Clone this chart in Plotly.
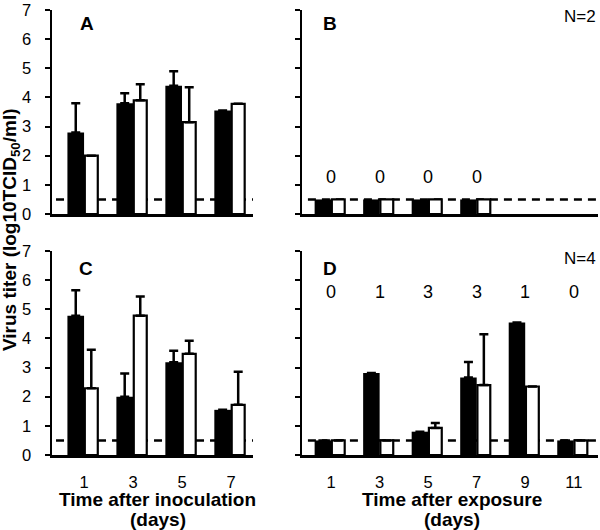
import plotly.graph_objects as go

W, H = 600, 530
FONT = "Arial, Liberation Sans, sans-serif"

# ---------------- data ----------------
days_inoc = [1, 3, 5, 7]
days_exp_b = [1, 3, 5, 7]
days_exp_d = [1, 3, 5, 7, 9, 11]

# Panel A
a_black = [2.8, 3.8, 4.4, 3.55]
a_black_err = [1.0, 0.34, 0.5, None]
a_white = [2.0, 3.9, 3.15, 3.78]
a_white_err = [None, 0.55, 1.2, None]

# Panel B
b_black = [0.5, 0.5, 0.5, 0.5]
b_white = [0.5, 0.5, 0.5, 0.5]
b_counts = ["0", "0", "0", "0"]

# Panel C
c_black = [4.78, 2.0, 3.18, 1.55]
c_black_err = [0.87, 0.8, 0.4, None]
c_white = [2.29, 4.78, 3.47, 1.72]
c_white_err = [1.32, 0.66, 0.45, 1.14]

# Panel D
d_black = [0.5, 2.81, 0.8, 2.66, 4.55, 0.5]
d_black_err = [None, None, None, 0.53, None, None]
d_white = [0.5, 0.5, 0.93, 2.4, 2.35, 0.5]
d_white_err = [None, None, 0.17, 1.74, None, None]
d_counts = ["0", "1", "3", "3", "1", "0"]

detection_limit = 0.5
y_ticks = [0, 1, 2, 3, 4, 5, 6, 7]

# ---------------- figure ----------------
fig = go.Figure()

def px_x(p):
    return p / W

def px_y(p):
    return 1 - p / H

def add_pair(days, black, black_err, white, white_err, xa, ya):
    def err(e):
        if e is None:
            return None
        return dict(type="data", array=[v if v is not None else float("nan") for v in e],
                    arrayminus=[0] * len(e), symmetric=False,
                    color="black", thickness=2.5, width=4.5)
    fig.add_trace(go.Bar(x=days, y=black, width=0.68, offset=-0.68,
                         marker=dict(color="black", line=dict(color="black", width=0)),
                         error_y=err(black_err), xaxis=xa, yaxis=ya, showlegend=False,
                         hoverinfo="skip"))
    fig.add_trace(go.Bar(x=days, y=white, width=0.53, offset=0.03,
                         marker=dict(color="white", line=dict(color="black", width=2.2)),
                         error_y=err(white_err), xaxis=xa, yaxis=ya, showlegend=False,
                         hoverinfo="skip"))

add_pair(days_inoc, a_black, a_black_err, a_white, a_white_err, "x", "y")
add_pair(days_exp_b, b_black, None, b_white, None, "x2", "y2")
add_pair(days_inoc, c_black, c_black_err, c_white, c_white_err, "x3", "y3")
add_pair(days_exp_d, d_black, d_black_err, d_white, d_white_err, "x4", "y4")

dom_left = [px_x(52), px_x(253)]
dom_right = [px_x(302), px_x(598)]
dom_top = [px_y(214), px_y(10)]
dom_bot = [px_y(455), px_y(251)]

TICKFONT = dict(family=FONT, size=16.5, color="black")
xcommon = dict(showline=True, linecolor="black", linewidth=2.5, ticks="",
               showgrid=False, zeroline=False, tickfont=TICKFONT, automargin=False)
ycommon = dict(showline=True, linecolor="black", linewidth=2.5, ticks="outside",
               ticklen=5, tickwidth=2, tickcolor="black", range=[0, 7],
               tickvals=y_ticks, showgrid=False, zeroline=False, tickfont=TICKFONT,
               automargin=False)

fig.update_layout(
    xaxis=dict(domain=dom_left, anchor="y", range=[-0.31, 7.9], showticklabels=False, **xcommon),
    yaxis=dict(domain=dom_top, anchor="x", ticklabelstandoff=10, **ycommon),
    xaxis2=dict(domain=dom_right, anchor="y2", range=[-0.2, 12], showticklabels=False, **xcommon),
    yaxis2=dict(domain=dom_top, anchor="x2", showticklabels=False, **ycommon),
    xaxis3=dict(domain=dom_left, anchor="y3", range=[-0.31, 7.9], tickvals=days_inoc,
                ticklabelstandoff=11, **xcommon),
    yaxis3=dict(domain=dom_bot, anchor="x3", ticklabelstandoff=10, **ycommon),
    xaxis4=dict(domain=dom_right, anchor="y4", range=[-0.2, 12], tickvals=days_exp_d,
                ticklabelstandoff=11, **xcommon),
    yaxis4=dict(domain=dom_bot, anchor="x4", showticklabels=False, **ycommon),
)

# detection limit dashed lines
for xr, yr in [("x", "y"), ("x2", "y2"), ("x3", "y3"), ("x4", "y4")]:
    fig.add_shape(type="line", xref=f"{xr} domain", yref=yr, x0=0.02, x1=1,
                  y0=detection_limit, y1=detection_limit, layer="below",
                  line=dict(color="black", width=2.6, dash="8px,6px"))

annots = []
def txt(text, xp, yp, size, xanchor="center", angle=0):
    annots.append(dict(text=text, x=px_x(xp), y=px_y(yp), xref="paper", yref="paper",
                       showarrow=False, xanchor=xanchor, yanchor="middle", textangle=angle,
                       font=dict(family=FONT, size=size, color="black")))

# panel letters
for letter, (xp, yp) in {"A": (87, 24), "B": (330, 24), "C": (86, 268), "D": (330, 268)}.items():
    txt(f"<b>{letter}</b>", xp, yp, 19)
# N labels
txt("N=2", 598, 17, 17, xanchor="right")
txt("N=4", 598, 258, 17, xanchor="right")
# counts
for d, c in zip(days_exp_b, b_counts):
    annots.append(dict(text=c, x=d, y=1.27, xref="x2", yref="y2", showarrow=False,
                       font=dict(family=FONT, size=18, color="black")))
for d, c in zip(days_exp_d, d_counts):
    annots.append(dict(text=c, x=d, y=5.6, xref="x4", yref="y4", showarrow=False,
                       font=dict(family=FONT, size=18, color="black")))
# axis titles
txt("<b>Time after inoculation</b>", 158, 499, 19)
txt("<b>(days)</b>", 158, 519, 19)
txt("<b>Time after exposure</b>", 452, 499, 19)
txt("<b>(days)</b>", 452, 519, 19)
txt("<b>Virus titer (log10TCID<sub>50</sub>/ml)</b>", 11, 230, 19, angle=-90)

fig.update_layout(
    annotations=annots,
    width=W, height=H,
    margin=dict(l=0, r=0, t=0, b=0, pad=0, autoexpand=False),
    paper_bgcolor="white", plot_bgcolor="white",
    barmode="overlay", showlegend=False,
)

fig.write_html("out.html", config={"displayModeBar": False, "staticPlot": True},
               post_script="document.body.style.margin='0px';document.body.style.overflow='hidden';")
